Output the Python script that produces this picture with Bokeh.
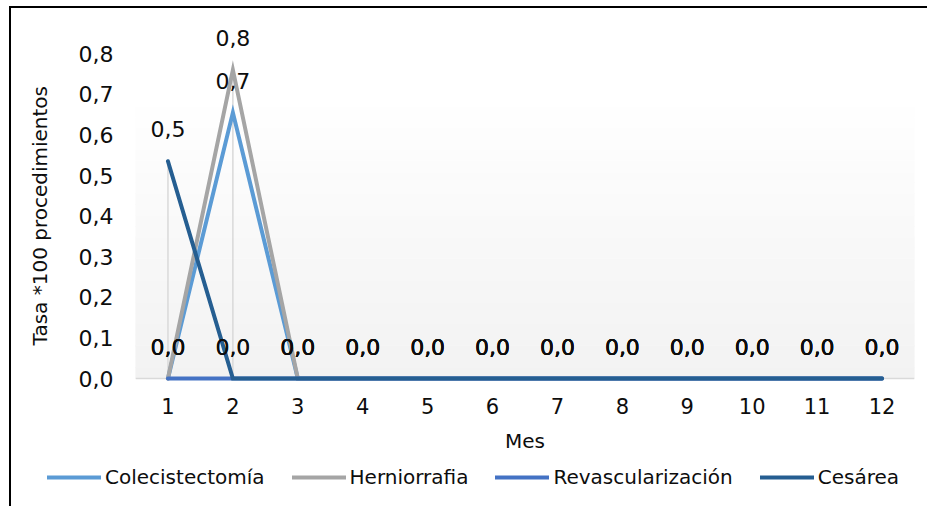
import numpy as np
from bokeh.plotting import figure
from bokeh.layouts import column
from bokeh.models import (Range1d, FixedTicker, Legend, LegendItem, Title,
                          CustomJSTickFormatter, InlineStyleSheet)
from bokeh.core.properties import value
from bokeh.embed import file_html
from bokeh.resources import INLINE

# ---------------- data ----------------
meses = [1, 2, 3, 4, 5, 6, 7, 8, 9, 10, 11, 12]
x_tick_labels = ["1", "2", "3", "4", "5", "6", "7", "8", "9", "10", "11", "12"]
y_ticks = [0.0, 0.1, 0.2, 0.3, 0.4, 0.5, 0.6, 0.7, 0.8]
y_tick_labels = ["0,0", "0,1", "0,2", "0,3", "0,4", "0,5", "0,6", "0,7", "0,8"]

series_names = ["Colecistectomía", "Herniorrafia", "Revascularización", "Cesárea"]
colecistectomia = [0.0, 0.655, 0.0, 0.0, 0.0, 0.0, 0.0, 0.0, 0.0, 0.0, 0.0, 0.0]
herniorrafia = [0.0, 0.76, 0.0, 0.0, 0.0, 0.0, 0.0, 0.0, 0.0, 0.0, 0.0, 0.0]
revascularizacion = [0.0, 0.0, 0.0, 0.0, 0.0, 0.0, 0.0, 0.0, 0.0, 0.0, 0.0, 0.0]
cesarea = [0.535, 0.0, 0.0, 0.0, 0.0, 0.0, 0.0, 0.0, 0.0, 0.0, 0.0, 0.0]
series_values = [colecistectomia, herniorrafia, revascularizacion, cesarea]
series_colors = ["#5b9bd5", "#a5a5a5", "#4472c4", "#255e91"]

FONT = "DejaVu Sans"
TXT = "#0d0d0d"
LW = 4
W = 927

# ---------------- main figure ----------------
PX_PER_UNIT = 406.0
p = figure(width=W, height=466, output_backend="svg", toolbar_location=None,
           x_range=Range1d(0.5, 12.5),
           y_range=Range1d(-7 / PX_PER_UNIT, 358 / PX_PER_UNIT),
           min_border_left=135, min_border_right=W - 914,
           min_border_top=20, min_border_bottom=81)
p.background_fill_color = "white"
p.border_fill_color = "white"
p.outline_line_color = None
p.xgrid.grid_line_color = None
p.ygrid.grid_line_color = None

# plot-area gradient (white at top -> light grey at bottom)
n_bands = 26
edges = np.linspace(0.0, 0.697, n_bands + 1)
band_cols = []
for i in range(n_bands):
    t = (i + 0.5) / n_bands
    g = int(round(242 + (255 - 242) * t))
    band_cols.append("#%02x%02x%02x" % (g, g, g))
p.quad(left=0.5, right=12.5, bottom=edges[:-1], top=edges[1:],
       fill_color=band_cols, line_color=band_cols, line_width=1)

# baseline
p.segment(x0=[0.5], y0=[0.0], x1=[12.5], y1=[0.0], line_color="#d9d9d9", line_width=1.5)

# drop lines (from the highest value of each month)
max_vals = [max(vals) for vals in zip(*series_values)]
drop_x = [m for m, v in zip(meses, max_vals) if v > 0]
drop_top = [v for v in max_vals if v > 0]
p.segment(x0=drop_x, y0=[0.0] * len(drop_x), x1=drop_x, y1=drop_top,
          line_color="#d9d9d9", line_width=1.5)

# series lines
for name, vals, col in zip(series_names, series_values, series_colors):
    p.line(meses, vals, line_color=col, line_width=LW,
           line_cap="round", line_join="miter")

# data labels
for vals in series_values:
    texts = [("%.1f" % v).replace(".", ",") for v in vals]
    p.text(x=meses, y=vals, text=texts, y_offset=-32,
           text_align="center", text_baseline="middle",
           text_font=value(FONT), text_font_size="22px", text_color=TXT)

# axes
p.xaxis.ticker = FixedTicker(ticks=meses)
p.xaxis.formatter = CustomJSTickFormatter(args=dict(labels=x_tick_labels),
                                          code="return labels[Math.round(tick) - 1];")
p.yaxis.ticker = FixedTicker(ticks=y_ticks)
p.yaxis.formatter = CustomJSTickFormatter(args=dict(labels=y_tick_labels),
                                          code="return labels[Math.round(tick * 10)];")
for ax in (p.xaxis, p.yaxis):
    ax.axis_line_color = None
    ax.major_tick_line_color = None
    ax.minor_tick_line_color = None
    ax.major_tick_out = 0
    ax.major_tick_in = 0
    ax.major_label_text_font = FONT
    ax.major_label_text_color = TXT
p.yaxis.major_label_text_font_size = "22px"
p.xaxis.major_label_text_font_size = "21px"
p.yaxis.major_label_standoff = 22
p.xaxis.major_label_standoff = 12
p.xaxis.axis_label = "Mes"
p.xaxis.axis_label_text_font = FONT
p.xaxis.axis_label_text_font_size = "20px"
p.xaxis.axis_label_text_font_style = "normal"
p.xaxis.axis_label_text_color = TXT
p.xaxis.axis_label_standoff = 12

# y-axis title (side title so it can be shifted along the axis)
ytitle = Title(text="Tasa *100 procedimientos", align="left", offset=40,
               text_font=FONT, text_font_size="20px", text_font_style="normal",
               text_color=TXT, standoff=47)
p.add_layout(ytitle, "left")

# ---------------- legend strip ----------------
LEG_H = 40
pl = figure(width=W, height=LEG_H, output_backend="svg", toolbar_location=None,
            x_range=Range1d(0, W), y_range=Range1d(0, LEG_H),
            x_axis_type=None, y_axis_type=None,
            min_border_left=0, min_border_right=0, min_border_top=0, min_border_bottom=0)
pl.background_fill_color = "white"
pl.border_fill_color = "white"
pl.outline_line_color = None
pl.xgrid.grid_line_color = None
pl.ygrid.grid_line_color = None
leg_renderers = [pl.line(x=[np.nan], y=[np.nan], line_color=c, line_width=LW,
                         line_cap="round")
                 for c in series_colors]
legend = Legend(items=[LegendItem(label=n, renderers=[r])
                       for n, r in zip(series_names, leg_renderers)],
                orientation="horizontal", location=(47, 17),
                label_text_font=FONT, label_text_font_size="20px",
                label_text_color=TXT, glyph_width=54, glyph_height=20,
                label_height=20, label_standoff=4, spacing=27,
                padding=0, margin=0, border_line_color=None,
                background_fill_alpha=0)
pl.add_layout(legend, "center")

for fig in (p, pl):
    try:
        fig.frame_align = False
    except Exception:
        pass

frame_css = InlineStyleSheet(css="""
:host { position: relative; }
:host::after {
  content: ""; position: absolute; left: 9px; top: 6px; right: 0; bottom: 0;
  border-left: 2px solid #000; border-top: 2px solid #000;
  pointer-events: none; z-index: 10;
}
""")
layout = column(p, pl, spacing=0, stylesheets=[frame_css])

open("out.html", "w").write(file_html(layout, INLINE))
